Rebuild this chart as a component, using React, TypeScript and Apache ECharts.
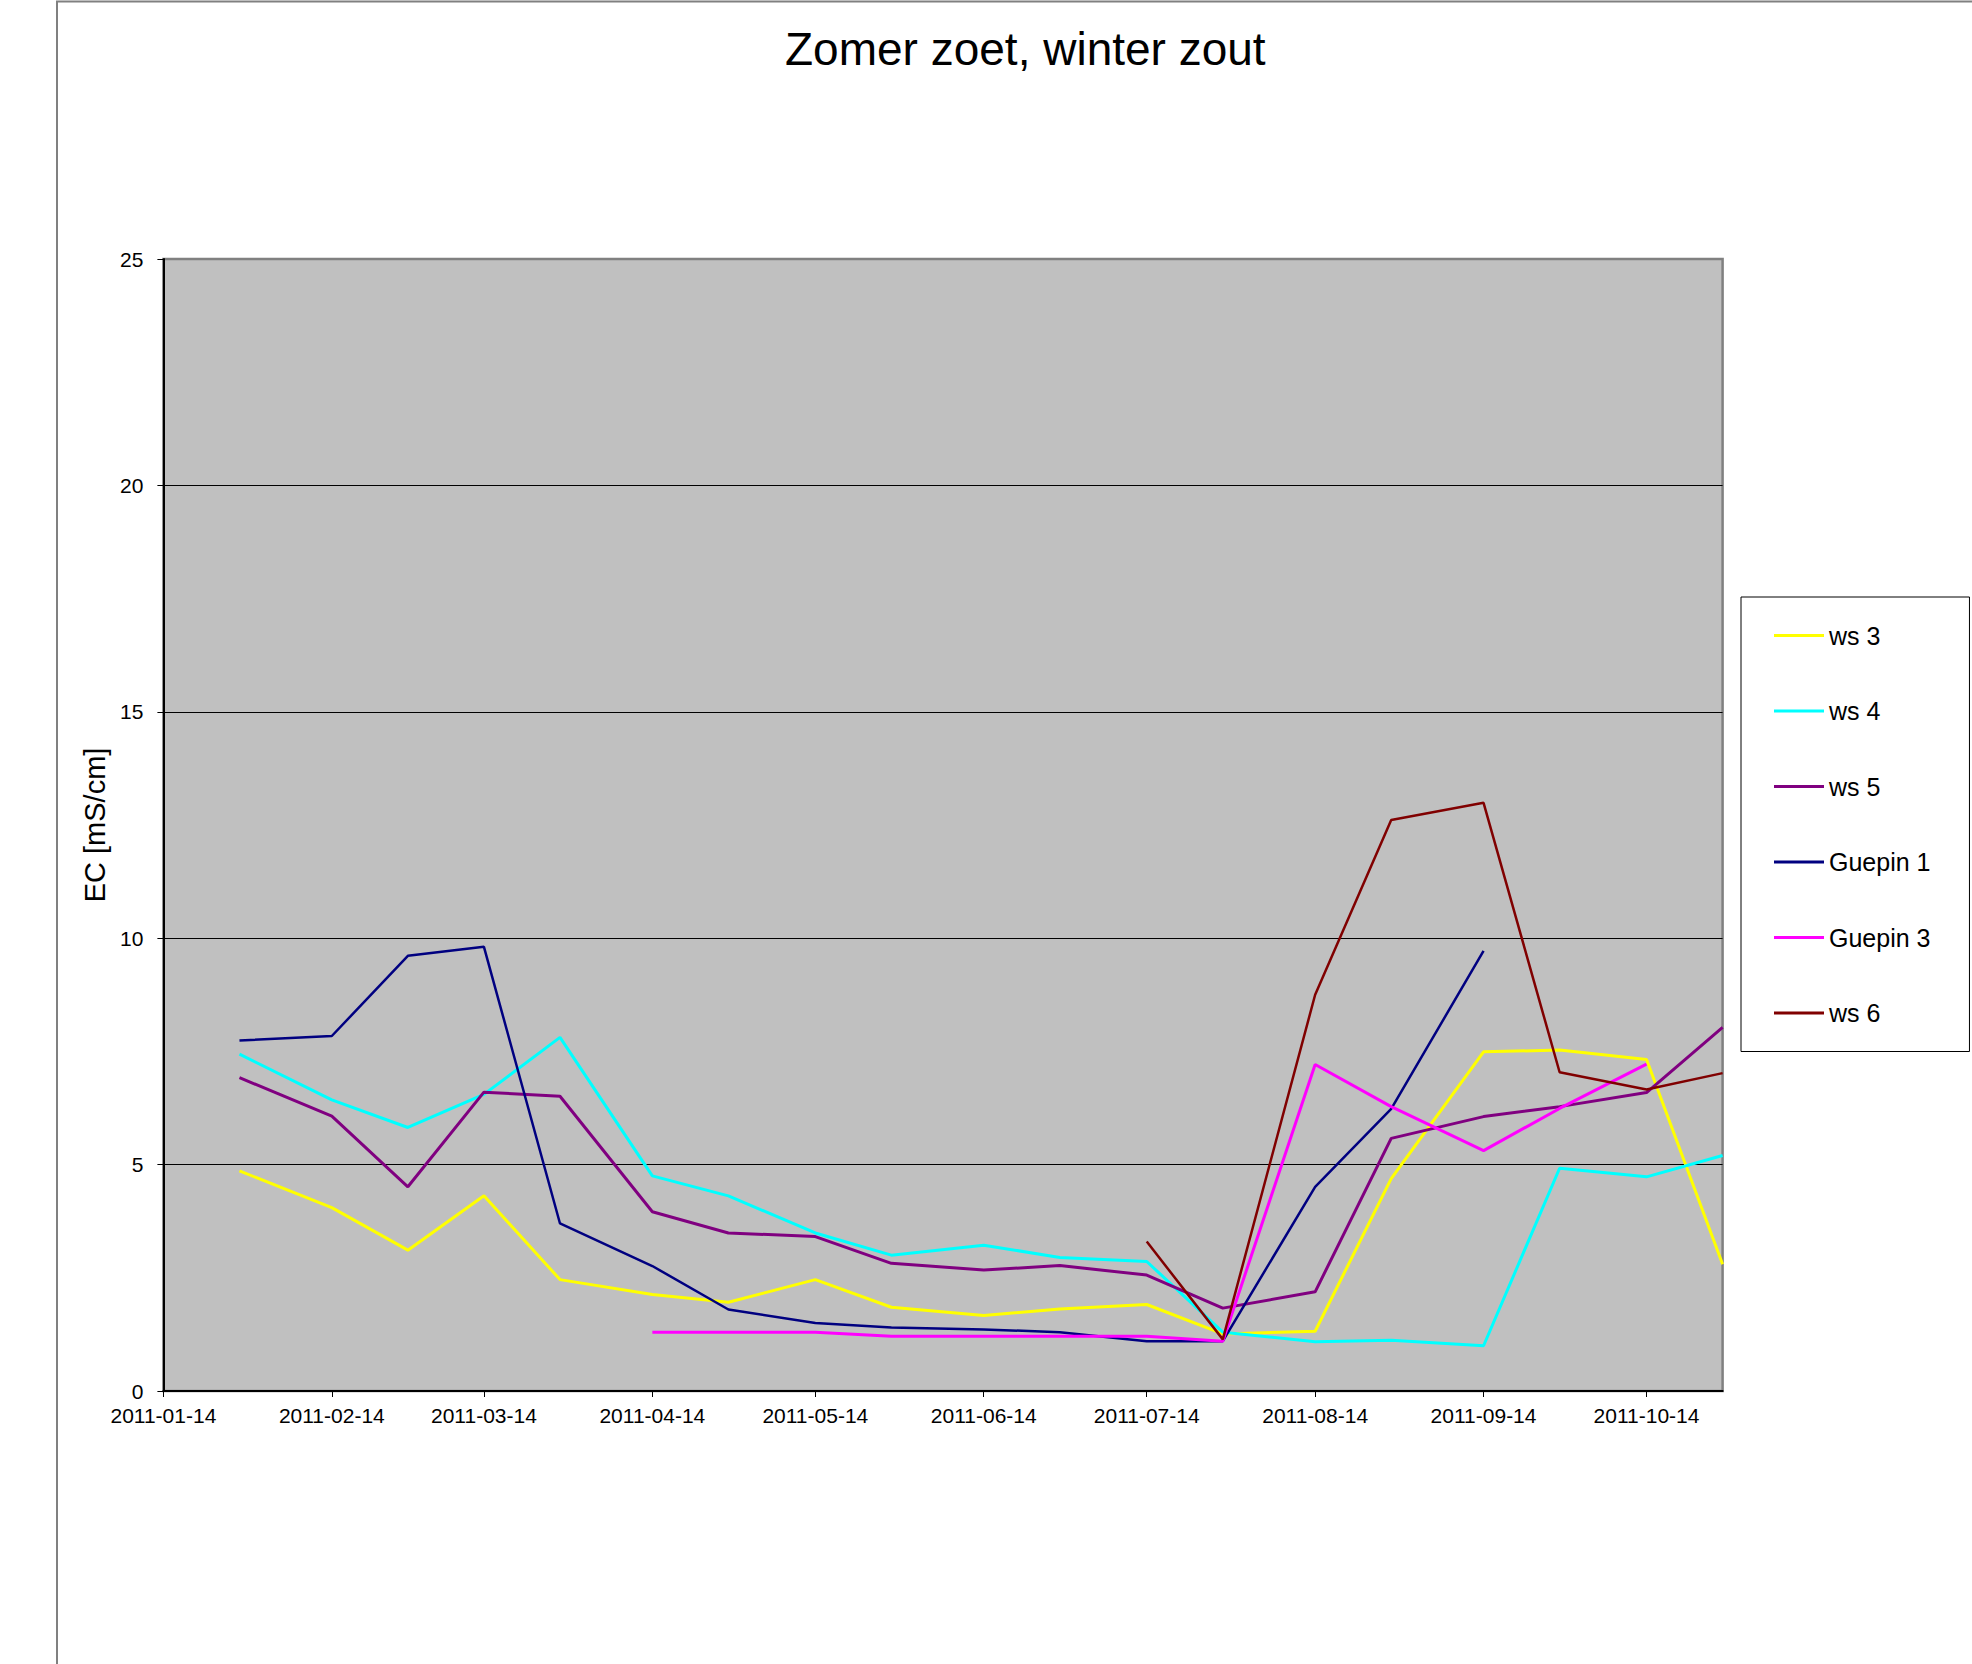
import React, { useEffect, useRef } from "react";
import * as echarts from "echarts";

const TITLE = "Zomer zoet, winter zout";
const Y_NAME = "EC [mS/cm]";

const DATES = [
  "2011-01-28", "2011-02-14", "2011-02-28", "2011-03-14", "2011-03-28",
  "2011-04-14", "2011-04-28", "2011-05-14", "2011-05-28", "2011-06-14",
  "2011-06-28", "2011-07-14", "2011-07-28", "2011-08-14", "2011-08-28",
  "2011-09-14", "2011-09-28", "2011-10-14", "2011-10-28",
];

const X_TICK_LABELS = [
  "2011-01-14", "2011-02-14", "2011-03-14", "2011-04-14", "2011-05-14",
  "2011-06-14", "2011-07-14", "2011-08-14", "2011-09-14", "2011-10-14",
];
const X_START = "2011-01-14";
const X_END = "2011-10-28";

const WS3 = [4.86, 4.05, 3.11, 4.31, 2.46, 2.13, 1.96, 2.46, 1.85, 1.67, 1.81, 1.91, 1.26, 1.32, 4.69, 7.49, 7.53, 7.32, 2.8];
const WS4 = [7.44, 6.43, 5.82, 6.55, 7.81, 4.75, 4.31, 3.49, 3.0, 3.22, 2.95, 2.86, 1.3, 1.09, 1.12, 1.0, 4.92, 4.73, 5.2];
const WS5 = [6.92, 6.07, 4.51, 6.6, 6.51, 3.96, 3.49, 3.41, 2.82, 2.67, 2.77, 2.56, 1.83, 2.19, 5.58, 6.06, 6.28, 6.59, 8.03];
const GUEPIN1 = [7.74, 7.84, 9.61, 9.81, 3.7, 2.76, 1.8, 1.5, 1.4, 1.36, 1.3, 1.1, 1.1, 4.51, 6.23, 9.72, null, null, null];
const GUEPIN3 = [null, null, null, null, null, 1.3, 1.3, 1.3, 1.21, 1.21, 1.21, 1.21, 1.1, 7.21, 6.28, 5.31, 6.24, 7.22, null];
const WS6 = [null, null, null, null, null, null, null, null, null, null, null, 3.3, 1.14, 8.75, 12.61, 12.99, 7.04, 6.66, 7.02];

const SERIES = [
  { name: "ws 3", values: WS3, color: "#FFFF00", width: 3 },
  { name: "ws 4", values: WS4, color: "#00FFFF", width: 3 },
  { name: "ws 5", values: WS5, color: "#800080", width: 3 },
  { name: "Guepin 1", values: GUEPIN1, color: "#000080", width: 2.5 },
  { name: "Guepin 3", values: GUEPIN3, color: "#FF00FF", width: 3 },
  { name: "ws 6", values: WS6, color: "#800000", width: 2.5 },
];

const FONT = "'Liberation Sans', Arial, sans-serif";

function dayOf(s: string): number {
  const [y, m, d] = s.split("-").map(Number);
  const [y0, m0, d0] = X_START.split("-").map(Number);
  return Math.round((Date.UTC(y, m - 1, d) - Date.UTC(y0, m0 - 1, d0)) / 86400000);
}

export default function App() {
  const ref = useRef<HTMLDivElement>(null);

  useEffect(() => {
    if (!ref.current) return;
    const chart = echarts.init(ref.current, undefined, { renderer: "svg" });
    const tickDays = X_TICK_LABELS.map(dayOf);

    const option: any = {
      animation: false,
      backgroundColor: "#FFFFFF",
      textStyle: { fontFamily: FONT },
      title: {
        text: TITLE,
        left: 785,
        top: 26,
        padding: 0,
        textStyle: { fontFamily: FONT, fontSize: 46, fontWeight: "normal", color: "#000000" },
      },
      graphic: [
        {
          type: "rect",
          shape: { x: 57, y: 1.5, width: 2100, height: 2000 },
          style: { fill: "none", stroke: "#808080", lineWidth: 2 },
          silent: true,
          z: -10,
        },
      ],
      legend: {
        orient: "vertical",
        left: 1741,
        top: 597,
        padding: [26, 39, 26, 33],
        itemGap: 50.5,
        itemWidth: 50,
        itemHeight: 3,
        icon: "rect",
        backgroundColor: "#FFFFFF",
        borderColor: "#000000",
        borderWidth: 1,
        selectedMode: false,
        textStyle: { fontFamily: FONT, fontSize: 25, color: "#000000", lineHeight: 25 },
        data: SERIES.map((s) => s.name),
      },
      grid: {
        left: 163.4,
        top: 259,
        width: 1559.2,
        height: 1132,
        show: true,
        backgroundColor: "#C0C0C0",
        borderColor: "#808080",
        borderWidth: 2.5,
        containLabel: false,
      },
      xAxis: {
        type: "value",
        min: 0,
        max: dayOf(X_END),
        splitLine: { show: false },
        axisLine: { show: true, onZero: false, lineStyle: { color: "#000000", width: 2 } },
        axisTick: { show: true, length: 6, customValues: tickDays, lineStyle: { color: "#000000", width: 1 } },
        axisLabel: {
          customValues: tickDays,
          margin: 14,
          fontSize: 21,
          color: "#000000",
          fontFamily: FONT,
          formatter: (v: number) => {
            const i = tickDays.indexOf(Math.round(v));
            return i >= 0 ? X_TICK_LABELS[i] : "";
          },
        },
      },
      yAxis: {
        type: "value",
        min: 0,
        max: 25,
        interval: 5,
        name: Y_NAME,
        nameLocation: "middle",
        nameRotate: 90,
        nameGap: 53,
        nameTextStyle: { fontFamily: FONT, fontSize: 29, color: "#000000" },
        axisLine: { show: true, lineStyle: { color: "#000000", width: 2 } },
        axisTick: { show: true, length: 6, lineStyle: { color: "#000000", width: 1 } },
        axisLabel: { margin: 20, fontSize: 21, color: "#000000", fontFamily: FONT },
        splitLine: { show: true, showMaxLine: false, lineStyle: { color: "#000000", width: 1 } },
      },
      series: SERIES.map((s) => ({
        name: s.name,
        type: "line",
        symbol: "none",
        showSymbol: false,
        clip: true,
        color: s.color,
        lineStyle: { color: s.color, width: s.width },
        itemStyle: { color: s.color },
        data: DATES.map((d, i) => [dayOf(d), s.values[i]]).filter((p) => p[1] !== null),
      })),
    };

    chart.setOption(option);
    return () => chart.dispose();
  }, []);

  return (
    <div
      ref={ref}
      style={{ position: "absolute", left: 0, top: 0, width: 1972, height: 1664 }}
    />
  );
}
